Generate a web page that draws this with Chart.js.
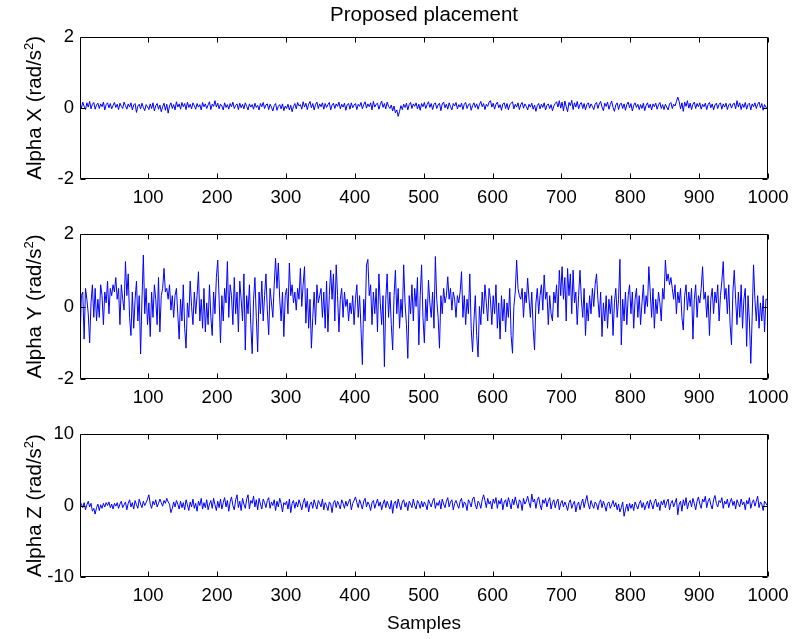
<!DOCTYPE html>
<html>
<head>
<meta charset="utf-8">
<script src="https://cdn.jsdelivr.net/npm/chart.js@4.4.0/dist/chart.umd.min.js"></script>
<style>
  html, body { margin: 0; padding: 0; background: #fff; }
  #wrap { position: relative; width: 800px; height: 639px; }
  canvas { position: absolute; left: 0; }
</style>
</head>
<body>
<div id="wrap">
  <canvas id="c1" width="800" height="210" style="top:0px"></canvas>
  <canvas id="c2" width="800" height="210" style="top:200px"></canvas>
  <canvas id="c3" width="800" height="239" style="top:400px"></canvas>
</div>
<script>
// ---- tick labels ----
const xTicks = [100, 200, 300, 400, 500, 600, 700, 800, 900, 1000];
const yTicksXY = [-2, 0, 2];
const yTicksZ = [-10, 0, 10];

// ---- texts ----
const chartTitle = 'Proposed placement';
const xAxisTitle = 'Samples';
const yAxisNames = ['Alpha X (rad/s', 'Alpha Y (rad/s', 'Alpha Z (rad/s'];

// ---- series values (read every 2nd sample, samples 1,3,5,...,999) ----
const alphaX = [
 0.12,-0.02,0.16,0.04,-0.05,0.14,0.02,0.18,-0.03,0.10,0.15,-0.04,0.08,0.13,-0.02,0.11,0.03,0.16,-0.06,0.09,0.14,0.00,0.12,-0.03,0.07,
 0.15,0.01,0.10,-0.05,0.13,0.04,-0.02,0.16,0.06,-0.04,0.11,0.02,0.14,-0.06,0.08,0.12,-0.13,0.05,0.10,-0.03,0.13,0.01,-0.08,0.09,0.03,
 -0.05,0.11,-0.02,0.14,-0.09,0.06,0.12,-0.04,0.08,-0.11,0.03,0.13,-0.07,0.10,-0.15,0.05,0.14,-0.02,0.09,-0.06,0.17,0.02,0.11,-0.04,0.15,
 0.03,0.12,-0.05,0.16,0.01,0.10,-0.03,0.14,0.06,-0.04,0.12,0.02,0.09,-0.06,0.15,0.03,0.11,-0.02,0.08,0.17,-0.05,0.10,0.04,0.20,0.02,
 0.13,-0.03,0.10,0.05,-0.06,0.14,0.01,0.09,-0.04,0.12,0.03,0.16,-0.02,0.07,0.11,-0.05,0.13,0.00,0.10,-0.03,0.14,0.04,-0.06,0.11,0.02,
 0.09,-0.04,0.13,0.01,0.07,-0.06,0.12,0.03,0.15,-0.02,0.08,0.11,-0.05,0.10,0.02,-0.09,0.06,0.12,-0.07,0.04,0.09,-0.03,0.11,-0.08,0.05,
 -0.02,0.10,-0.06,0.07,-0.11,0.04,0.12,-0.03,0.15,0.05,0.09,-0.04,0.17,0.02,0.13,-0.05,0.10,0.18,0.00,0.12,-0.06,0.09,0.16,-0.02,0.11,
 0.03,0.14,-0.04,0.12,0.01,0.09,0.15,-0.06,0.08,0.13,-0.02,0.11,0.04,0.16,-0.03,0.10,0.02,0.13,-0.07,0.09,0.12,-0.04,0.14,0.00,0.08,
 0.12,-0.05,0.10,0.04,0.15,-0.03,0.09,0.17,-0.01,0.11,0.03,0.14,-0.06,0.18,0.02,0.10,0.13,-0.04,0.09,0.19,0.01,0.12,-0.03,0.16,0.04,
 -0.02,0.08,-0.09,0.05,-0.14,-0.06,-0.24,-0.10,0.06,-0.05,0.10,0.01,0.13,-0.06,0.09,0.15,-0.02,0.11,0.04,0.14,-0.03,0.10,-0.07,0.12,0.03,
 0.15,-0.02,0.09,0.17,0.01,0.12,-0.05,0.10,0.14,-0.02,0.08,0.13,-0.08,0.11,0.16,0.00,0.10,-0.04,0.14,0.03,-0.06,0.12,0.05,0.15,-0.03,
 0.09,0.02,0.13,-0.05,0.10,0.15,-0.02,0.08,0.12,-0.07,0.06,0.14,0.01,0.11,-0.04,0.09,0.18,0.03,0.12,-0.05,0.10,0.04,0.16,0.20,0.02,
 0.13,-0.04,0.10,0.16,0.00,0.09,-0.07,0.11,0.14,-0.02,0.12,-0.06,0.08,0.13,0.17,-0.03,0.10,0.02,0.14,-0.05,0.09,0.15,-0.01,0.11,0.04,
 -0.06,0.10,0.02,0.13,-0.04,0.08,-0.10,0.06,0.12,-0.03,0.10,0.01,0.14,-0.06,0.07,0.11,-0.02,0.09,-0.08,0.05,0.12,0.17,0.02,0.20,-0.01,
 0.16,-0.09,0.19,0.03,-0.11,0.15,0.06,0.21,-0.05,0.14,0.02,0.18,-0.03,0.10,0.15,-0.02,0.12,-0.06,0.09,0.14,-0.01,0.11,0.04,-0.05,0.10,
 0.15,-0.02,0.11,0.18,0.02,-0.08,0.13,0.04,0.16,-0.04,0.09,0.19,0.01,-0.10,0.08,0.14,-0.05,0.10,0.13,-0.02,0.11,-0.07,0.09,0.16,0.00,
 0.12,-0.09,0.07,0.14,0.01,0.10,-0.05,0.09,-0.02,0.13,-0.08,0.07,0.14,0.00,0.10,-0.06,0.11,0.03,0.13,-0.04,0.08,0.15,-0.02,0.09,-0.05,
 0.10,0.02,-0.06,0.11,0.15,-0.02,0.10,0.05,0.17,0.30,0.18,-0.03,0.14,-0.10,0.16,0.04,0.20,-0.01,0.13,-0.05,0.10,0.16,-0.02,0.12,0.03,
 0.14,-0.04,0.10,0.03,0.13,-0.05,0.09,0.15,0.00,0.11,-0.06,0.08,0.13,-0.02,0.10,0.14,-0.04,0.11,0.02,0.13,-0.05,0.08,0.12,-0.01,0.10,
 0.13,-0.03,0.20,0.02,0.14,-0.05,0.11,0.01,0.15,-0.04,0.09,0.13,-0.06,0.11,0.03,0.14,-0.02,0.10,0.16,0.00,0.12,-0.07,0.09,0.02,-0.03
];

const alphaY = [
 -1.0,0.3,0.4,-0.9,0.5,0.2,-0.2,-1.0,0.1,0.6,-0.3,0.5,-0.4,0.2,-0.3,0.6,0.3,-0.5,0.4,0.1,0.7,-0.2,0.5,0.3,0.6,
 0.4,0.8,0.2,0.5,-0.5,0.6,0.2,-0.1,1.24,0.3,0.9,-0.3,-0.8,0.4,-0.6,0.2,0.7,-0.4,0.3,-1.31,0.2,1.42,-0.2,0.5,-0.5,
 0.1,-0.83,0.4,-0.3,0.6,0.2,-0.5,0.8,-0.7,0.3,0.5,1.05,0.4,0.5,0.2,0.6,-0.1,0.3,-0.3,0.3,0.5,-0.2,-0.9,0.2,-0.4,
 0.6,-0.6,-1.15,0.1,-0.3,0.7,0.0,-0.5,0.4,-0.2,0.3,0.96,-0.4,0.2,-0.6,0.5,-0.7,0.1,-0.5,0.6,-0.3,-0.8,0.4,-0.2,0.8,
 1.28,0.2,-1.0,0.3,-0.4,0.5,0.1,1.24,-0.3,0.6,0.3,-0.5,0.8,-0.2,0.4,-0.7,0.7,0.2,-0.4,0.9,-1.2,0.3,-0.2,0.6,-0.5,
 -1.3,0.2,0.8,-0.3,-1.25,0.4,-0.2,0.7,-0.4,0.3,0.9,-0.1,-0.78,0.5,0.1,-0.3,0.6,1.33,0.5,1.2,0.2,-0.4,0.4,-0.83,0.3,
 0.5,-0.2,1.2,0.3,0.6,0.1,0.4,-0.1,0.5,0.2,1.05,0.0,0.6,1.1,-0.46,0.5,-0.6,0.2,-1.15,-0.3,0.4,-0.5,0.6,0.1,0.3,
 0.5,-0.3,0.4,-0.6,0.7,-0.7,0.3,1.0,0.2,0.9,-0.4,1.15,0.3,-0.7,0.2,0.5,-0.3,0.4,0.0,0.2,-0.4,0.1,-0.2,0.3,-0.5,
 0.2,0.6,-0.3,0.3,-0.6,-1.6,0.2,-0.4,1.15,1.3,0.3,0.6,-0.5,0.4,-0.2,0.5,-0.7,0.9,0.1,-0.5,0.3,-1.66,0.2,0.9,-0.3,
 0.4,-0.5,-1.2,0.3,1.0,-0.2,0.5,-0.6,0.2,-0.3,1.15,0.1,-0.5,-1.43,0.3,-0.2,0.6,-0.4,0.5,0.0,0.8,-1.06,0.3,1.15,-0.3,
 -1.0,0.2,-0.4,0.73,0.1,-0.3,0.4,-0.6,1.38,0.2,-0.3,-1.15,0.3,-0.2,0.5,0.1,0.3,0.82,0.2,0.5,-0.1,0.4,0.2,-0.3,0.3,
 0.1,0.4,0.96,-0.3,0.3,-0.5,0.2,-0.2,0.9,-0.6,-1.25,-0.4,0.3,-0.8,-1.39,0.0,-0.5,0.4,-0.2,0.6,0.1,-0.4,0.5,0.2,-0.5,
 0.3,-0.2,0.6,-0.6,0.1,-0.9,0.3,-0.4,0.2,-0.7,0.1,-0.3,0.5,-0.8,-1.29,0.0,0.4,1.28,0.5,0.3,0.2,0.5,-0.3,0.4,0.1,
 0.78,0.2,-0.3,0.4,-0.6,-1.2,0.1,0.5,-0.2,0.3,0.6,-0.1,0.87,0.2,0.4,-0.5,0.3,-0.2,-0.4,0.4,0.1,0.6,-0.3,1.0,0.3,
 1.1,0.2,0.8,-0.4,1.05,0.3,0.9,-0.2,1.0,0.1,0.4,-0.5,0.3,1.0,0.2,-0.3,0.5,-0.8,0.1,-0.4,0.3,-0.2,0.5,0.0,0.6,
 0.9,0.2,-0.3,0.4,-0.83,0.1,-0.4,0.3,-0.6,0.2,-0.2,0.3,-0.8,0.1,0.5,-0.3,0.2,1.3,-1.06,0.2,-0.4,0.4,-0.5,0.3,0.6,
 -0.2,0.4,-0.6,0.2,0.5,-0.3,0.3,-0.5,0.1,0.6,-0.2,0.3,0.0,1.1,0.4,-0.3,0.5,-0.6,0.2,-0.2,0.4,0.1,-0.4,0.5,0.2,
 1.28,0.7,0.9,0.6,0.8,0.5,0.2,0.6,-0.2,0.4,0.1,0.5,-0.3,-0.65,0.3,0.6,-0.1,0.4,0.0,0.5,-0.9,0.2,0.6,-0.3,0.3,
 0.1,0.5,1.1,0.2,0.4,-0.3,0.3,-0.8,0.2,0.5,-0.2,0.4,0.1,0.6,-0.4,0.3,0.7,1.24,0.2,0.5,-0.2,0.6,-0.5,-1.06,0.4,
 1.0,0.2,-0.5,0.4,-0.3,0.6,-0.6,0.2,0.5,-1.1,0.3,-0.4,-1.57,-0.3,1.15,0.2,-0.4,0.3,-0.6,0.1,-0.4,0.3,-0.7,0.2,0.2
];

const alphaZ = [
 0.5,0.2,-0.3,0.4,-0.6,0.1,0.6,-0.2,0.3,-0.8,-0.4,-1.2,-0.3,0.2,-0.7,0.1,-0.4,0.3,-0.2,0.4,0.0,0.5,-0.3,0.2,-0.5,
 0.3,-0.1,0.4,-0.4,0.2,0.6,-0.3,0.1,0.5,-0.6,0.3,0.8,-0.2,0.4,-0.5,0.7,0.1,-0.4,0.9,0.2,-0.3,0.6,0.0,0.4,0.9,
 1.5,0.2,-0.4,0.6,0.1,0.8,-0.2,0.3,0.9,0.4,-0.1,0.7,0.3,1.0,0.5,0.2,-1.0,-0.4,0.5,-0.2,0.7,0.2,-0.5,0.6,-0.3,
 0.4,-0.6,0.8,0.1,-0.7,0.5,-0.2,0.9,-0.4,0.3,-0.8,0.6,0.0,1.0,-0.5,0.4,-0.3,0.8,-0.6,0.2,0.7,-0.4,1.0,0.1,-0.7,
 0.6,-0.3,0.9,-0.5,0.4,1.1,-0.2,0.7,-0.8,0.5,1.2,0.0,-0.6,0.8,1.5,-0.3,0.6,-0.7,1.0,0.2,-0.4,0.9,1.5,-0.5,0.7,
 0.3,1.3,-0.2,0.8,-0.6,1.0,0.2,-0.5,0.9,0.4,-0.3,0.7,1.1,-0.4,0.5,0.0,0.8,-0.7,0.6,-0.2,1.0,0.3,-0.9,0.4,0.1,
 0.6,-0.5,0.9,-1.0,0.3,0.7,-0.4,0.5,-0.2,0.8,0.2,-0.6,0.4,1.0,-0.3,0.6,-0.9,0.2,0.5,-0.4,0.8,0.1,-0.5,0.7,0.3,
 -0.2,0.9,-0.6,0.4,0.0,-0.7,0.5,0.2,-1.0,0.4,0.7,-0.3,0.6,0.1,-0.5,0.8,0.3,-0.4,0.6,-0.1,0.5,0.9,-0.6,0.3,0.7,
 1.2,0.4,-0.3,0.8,0.2,-0.5,0.6,1.0,-0.2,0.5,0.1,-0.7,0.4,0.7,-0.4,0.3,0.9,-0.1,0.5,-0.6,0.2,0.8,-0.3,0.6,0.0,
 -0.5,0.7,-1.1,0.3,0.6,-0.4,0.9,0.1,-0.6,0.5,0.8,-0.2,0.4,-0.7,0.6,0.2,-0.3,0.9,0.0,-0.5,0.7,0.3,-0.4,0.6,-0.2,
 0.5,0.1,-0.6,0.8,0.3,-0.2,0.6,1.0,-0.4,0.4,0.0,0.7,-0.5,0.9,0.2,-0.3,0.6,1.1,-0.2,0.5,0.8,-0.6,0.3,0.7,0.1,
 -0.4,0.6,1.0,-0.3,0.5,0.2,-0.7,0.8,0.4,-0.2,0.9,1.2,0.1,-0.5,0.6,0.3,-0.4,0.8,1.5,0.7,-0.3,1.0,0.2,0.6,-0.5,
 0.9,0.3,1.1,-0.4,0.7,0.2,1.0,-0.6,0.5,0.8,-0.2,1.1,0.4,-0.5,0.9,0.1,1.2,0.3,-0.4,0.8,0.5,-0.7,1.0,0.2,0.6,
 1.3,0.4,-0.3,1.6,0.5,0.9,-0.4,0.7,1.2,0.1,-0.6,0.8,0.3,1.0,-0.2,0.6,1.1,-0.5,0.4,0.8,-0.3,0.5,0.9,-0.6,0.3,
 0.7,-0.2,0.5,0.0,-0.7,0.4,0.8,-0.4,0.2,0.6,-0.9,0.1,0.5,-0.6,0.3,0.9,-0.3,0.6,1.4,0.2,-0.5,0.7,0.1,-0.4,0.5,
 0.2,-0.6,0.4,0.8,-0.3,0.6,0.0,-0.8,0.3,0.5,-0.4,0.1,0.7,-0.2,0.4,-0.6,0.2,-0.9,-0.3,0.5,-1.5,-0.6,0.2,-0.8,0.3,
 -0.4,0.2,-0.7,0.5,0.0,-0.5,0.3,0.7,-0.3,0.4,-0.6,0.1,0.6,-0.4,0.8,0.2,-0.5,0.5,0.9,-0.2,0.4,-0.7,0.6,0.1,0.8,
 -0.3,0.5,0.9,-0.6,0.3,0.7,-0.2,0.4,1.0,-1.3,0.2,0.6,-0.8,0.8,0.0,1.1,-0.5,0.4,0.7,-0.2,1.0,0.3,-0.6,0.6,1.2,
 0.2,-0.4,0.9,0.5,1.3,-0.3,0.6,1.0,0.1,-0.5,0.8,1.4,0.3,-0.2,0.7,0.4,1.1,-0.4,0.6,0.2,0.9,-0.3,0.5,1.0,0.0,
 0.6,-0.5,0.8,0.3,-0.2,0.9,0.1,0.5,-0.6,0.7,0.2,1.1,-0.4,0.4,0.8,-0.1,0.6,1.3,-0.3,0.5,0.2,-0.7,0.6,0.3,0.0
];

// sample index of each value (every 2nd sample starting at 1)
const sampleIndex = (arr) => arr.map((_, i) => 1 + 2 * i);

const FONT = '"Liberation Sans", Arial, sans-serif';
const BLUE = '#0000ff';

const framePlugin = {
  id: 'frame',
  afterDraw(chart) {
    const { ctx, chartArea: a, scales } = chart;
    const xs = scales.x, ys = scales.y;
    ctx.save();
    ctx.strokeStyle = '#000';
    ctx.lineWidth = 1;
    const L = Math.round(a.left) + 0.5, R = Math.round(a.right) - 0.5;
    const T = Math.round(a.top) + 0.5, B = Math.round(a.bottom) - 0.5;
    ctx.beginPath();
    ctx.rect(L, T, R - L, B - T);
    const tl = 5;
    xs.ticks.forEach(t => {
      const px = Math.round(xs.getPixelForValue(t.value)) + 0.5;
      ctx.moveTo(px, T); ctx.lineTo(px, T + tl);
      ctx.moveTo(px, B); ctx.lineTo(px, B - tl);
    });
    ys.ticks.forEach(t => {
      const py = Math.round(ys.getPixelForValue(t.value)) + 0.5;
      ctx.moveTo(L, py); ctx.lineTo(L + tl, py);
      ctx.moveTo(R, py); ctx.lineTo(R - tl, py);
    });
    ctx.stroke();
    ctx.restore();
  }
};

// y-axis title with a real superscript "2"
const yTitlePlugin = {
  id: 'ytitle',
  afterDraw(chart, args, o) {
    const { ctx, chartArea: a } = chart;
    const cy = (a.top + a.bottom) / 2;
    ctx.save();
    ctx.translate(o.baselineX, cy);
    ctx.rotate(-Math.PI / 2);
    ctx.fillStyle = '#000';
    ctx.textBaseline = 'alphabetic';
    ctx.textAlign = 'left';
    const mainFont = o.size + 'px ' + FONT;
    const supFont = o.supSize + 'px ' + FONT;
    ctx.font = mainFont;
    const w1 = ctx.measureText(o.main).width;
    const w3 = ctx.measureText(')').width;
    ctx.font = supFont;
    const w2 = ctx.measureText('2').width;
    const x0 = -(w1 + w2 + w3) / 2;
    ctx.font = mainFont; ctx.fillText(o.main, x0, 0);
    ctx.font = supFont; ctx.fillText('2', x0 + w1, -o.supRaise);
    ctx.font = mainFont; ctx.fillText(')', x0 + w1 + w2, 0);
    ctx.restore();
  }
};

function makeChart(id, values, yName, yTicks, opts) {
  const xs = sampleIndex(values);
  const data = values.map((v, i) => ({ x: xs[i], y: v }));
  return new Chart(document.getElementById(id), {
    type: 'line',
    data: {
      datasets: [{
        data: data,
        borderColor: BLUE,
        borderWidth: 1,
        pointRadius: 0,
        tension: 0,
        fill: false
      }]
    },
    options: {
      responsive: false,
      animation: false,
      devicePixelRatio: 1,
      events: [],
      layout: { padding: { top: opts.padTop, right: 32, left: 0, bottom: 0 } },
      plugins: {
        legend: { display: false },
        tooltip: { enabled: false },
        ytitle: { main: yName, size: 20.5, supSize: 13, supRaise: 8, baselineX: 41 },
        title: opts.title ? {
          display: true,
          text: opts.title,
          fullSize: false,
          color: '#000',
          font: { family: FONT, size: 20.5, weight: 'normal' },
          padding: { top: 3, bottom: 9 }
        } : { display: false }
      },
      scales: {
        x: {
          type: 'linear',
          min: 1,
          max: 1000,
          grid: { display: false, drawTicks: false },
          border: { display: false },
          afterBuildTicks: (s) => { s.ticks = xTicks.map(v => ({ value: v })); },
          ticks: {
            color: '#000',
            padding: 8,
            maxRotation: 0,
            autoSkip: false,
            font: { family: FONT, size: 18.5 },
            callback: (v) => String(v)
          },
          title: opts.xTitle ? {
            display: true,
            text: opts.xTitle,
            color: '#000',
            font: { family: FONT, size: 19 },
            padding: { top: 0, bottom: 4 }
          } : { display: false },
          afterFit: (s) => { s.height = opts.xHeight; }
        },
        y: {
          type: 'linear',
          min: yTicks[0],
          max: yTicks[yTicks.length - 1],
          grid: { display: false, drawTicks: false },
          border: { display: false },
          afterBuildTicks: (s) => { s.ticks = yTicks.map(v => ({ value: v })); },
          ticks: {
            color: '#000',
            padding: 6,
            font: { family: FONT, size: 18.5 },
            callback: (v) => String(v)
          },
          title: { display: false },
          afterFit: (s) => { s.width = 80; }
        }
      }
    },
    plugins: [framePlugin, yTitlePlugin]
  });
}

makeChart('c1', alphaX, yAxisNames[0], yTicksXY, { padTop: 0, title: chartTitle, xHeight: 31 });
makeChart('c2', alphaY, yAxisNames[1], yTicksXY, { padTop: 34, xHeight: 31 });
makeChart('c3', alphaZ, yAxisNames[2], yTicksZ, { padTop: 34, xHeight: 62, xTitle: xAxisTitle });
</script>
</body>
</html>
